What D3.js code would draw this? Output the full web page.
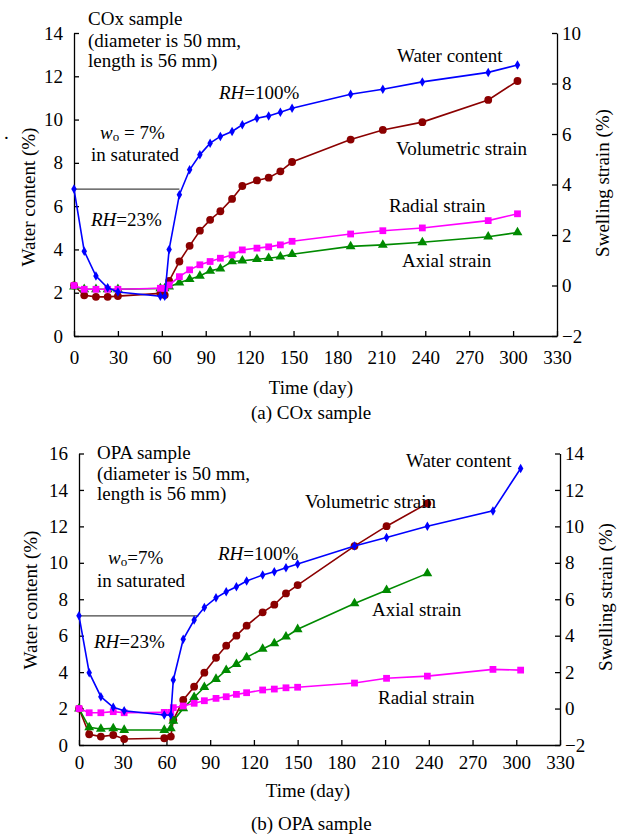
<!DOCTYPE html>
<html>
<head>
  <meta charset="utf-8">
  <script src="https://d3js.org/d3.v7.min.js"></script>
  <style>
    body { margin: 0; background: #fff; }
    .axis path, .axis line { stroke: #000; stroke-width: 1.3; }
  </style>
</head>
<body>
  <svg width="624" height="834"></svg>
  <script>
    // COx sample (a)
    var coxDays = [0, 7, 15, 23, 30, 59, 62, 65, 72, 79, 86, 93, 100, 108, 115, 125, 133, 141, 149, 189, 211, 238, 283, 303];
    var coxWater = [6.79, 3.92, 2.77, 2.23, 2.03, 1.84, 1.84, 4.0, 6.53, 7.68, 8.37, 8.91, 9.22, 9.45, 9.76, 10.06, 10.17, 10.34, 10.52, 11.17, 11.40, 11.74, 12.18, 12.52];
    var coxVol = [0.0, -0.39, -0.45, -0.45, -0.42, -0.31, -0.38, 0.18, 0.95, 1.57, 2.17, 2.60, 2.94, 3.43, 3.94, 4.16, 4.27, 4.52, 4.89, 5.78, 6.16, 6.47, 7.35, 8.10];
    var coxRadial = [0.0, -0.15, -0.15, -0.15, -0.15, -0.11, -0.11, 0.02, 0.35, 0.62, 0.82, 0.95, 1.08, 1.21, 1.41, 1.48, 1.53, 1.61, 1.75, 2.04, 2.17, 2.28, 2.57, 2.84];
    var coxAxial = [-0.05, -0.15, -0.15, -0.15, -0.15, -0.12, -0.12, -0.05, 0.11, 0.25, 0.38, 0.58, 0.67, 0.95, 0.98, 1.04, 1.08, 1.14, 1.24, 1.55, 1.61, 1.71, 1.93, 2.10];

    // OPA sample (b)
    var opaDays = [0, 7, 15, 23.5, 31, 58.5, 63, 64.7, 71.5, 79, 86, 94, 101, 108, 115, 126, 134, 142, 150, 189, 211, 239, 284, 303];
    var opaWater = [7.09, 3.97, 2.65, 2.07, 1.88, 1.65, 1.65, 3.57, 5.80, 6.86, 7.55, 8.08, 8.41, 8.69, 9.00, 9.33, 9.51, 9.73, 9.93, 10.92, 11.39, 12.01, 12.85, 15.18];
    var opaVol = [0.0, -1.41, -1.54, -1.45, -1.67, -1.63, -1.54, -0.63, 0.47, 1.20, 1.97, 2.79, 3.45, 4.00, 4.55, 5.28, 5.70, 6.32, 6.78, 8.92, 10.01, 11.26];
    var opaAxial = [0.0, -1.03, -1.12, -1.09, -1.18, -1.18, -1.09, -0.68, 0.01, 0.62, 1.17, 1.62, 2.11, 2.44, 2.81, 3.27, 3.58, 3.94, 4.35, 5.77, 6.50, 7.42];
    var opaRadial = [0.0, -0.23, -0.23, -0.17, -0.23, -0.21, -0.21, 0.05, 0.14, 0.29, 0.43, 0.56, 0.65, 0.78, 0.87, 1.02, 1.07, 1.14, 1.17, 1.40, 1.66, 1.78, 2.15, 2.11];

    var timeTicks = [0, 30, 60, 90, 120, 150, 180, 210, 240, 270, 300, 330];
    var coxLeftTicks = [0, 2, 4, 6, 8, 10, 12, 14];
    var coxRightTicks = [-2, 0, 2, 4, 6, 8, 10];
    var opaLeftTicks = [0, 2, 4, 6, 8, 10, 12, 14, 16];
    var opaRightTicks = [-2, 0, 2, 4, 6, 8, 10, 12, 14];

    var FONT = "'Liberation Serif'";
    var svg = d3.select("svg").style("font-family", FONT).style("font-size", "19px");

    function txt(x, y, s, anchor) {
      return svg.append("text").attr("x", x).attr("y", y).attr("dy", "0.35em")
        .style("font-family", FONT).style("font-size", "19px")
        .attr("text-anchor", anchor || "start").text(s);
    }
    function rh(x, y, rest) {
      var t = txt(x, y, "");
      t.append("tspan").style("font-style", "italic").text("RH");
      t.append("tspan").text(rest);
    }
    function wo(x, y, rest) {
      var t = txt(x, y, "");
      t.append("tspan").style("font-style", "italic").text("w");
      t.append("tspan").style("font-size", "13px").attr("dy", "2").text("o");
      t.append("tspan").attr("dy", "-2").text(rest);
    }

    function styleAxis(g) {
      g.attr("font-family", null).attr("font-size", null);
      g.selectAll("text").style("font-family", FONT).style("font-size", "19px").attr("fill", "#000");
    }

    function panel(p) {
      var x = d3.scaleLinear().domain([0, 330]).range([p.x0, p.x1]);
      var yl = d3.scaleLinear().domain(p.leftDom).range([p.y1, p.y0]);
      var yr = d3.scaleLinear().domain(p.rightDom).range([p.y1, p.y0]);

      svg.append("g").attr("class", "axis").attr("transform", "translate(0," + p.y1 + ")")
        .call(d3.axisBottom(x).tickValues(timeTicks).tickSize(-5).tickSizeOuter(0).tickPadding(p.xPad))
        .call(styleAxis);
      svg.append("g").attr("class", "axis").attr("transform", "translate(" + p.x0 + ",0)")
        .call(d3.axisLeft(yl).tickValues(p.leftTicks).tickSize(-5).tickSizeOuter(0).tickPadding(11))
        .call(styleAxis);
      svg.append("g").attr("class", "axis").attr("transform", "translate(" + p.x1 + ",0)")
        .call(d3.axisRight(yr).tickValues(p.rightTicks).tickSize(-5).tickSizeOuter(0).tickPadding(5))
        .call(styleAxis);

      // w0 reference line
      svg.append("line")
        .attr("x1", x(0)).attr("x2", x(p.refEnd))
        .attr("y1", yl(p.water[0])).attr("y2", yl(p.water[0]))
        .attr("stroke", "#444").attr("stroke-width", 1.2);

      var series = [
        { vals: p.vol, scale: yr, color: "#8b0000", sym: d3.symbolCircle, size: 48 },
        { vals: p.axial, scale: yr, color: "#008a00", sym: d3.symbolTriangle, size: 42 },
        { vals: p.radial, scale: yr, color: "#ff00ff", sym: d3.symbolSquare, size: 46 },
        { vals: p.water, scale: yl, color: "#0000ff", sym: d3.symbolDiamond, size: 26 }
      ];
      series.forEach(function(s) {
        var pts = s.vals.map(function(v, i) { return [p.days[i], v]; });
        var line = d3.line()
          .x(function(d) { return x(d[0]); })
          .y(function(d) { return s.scale(d[1]); });
        svg.append("path").datum(pts).attr("d", line)
          .attr("fill", "none").attr("stroke", s.color).attr("stroke-width", 1.6);
        svg.append("g").selectAll("path").data(pts).enter().append("path")
          .attr("d", d3.symbol().type(s.sym).size(s.size))
          .attr("transform", function(d) { return "translate(" + x(d[0]) + "," + s.scale(d[1]) + ")"; })
          .attr("fill", s.color);
      });

      txt(0, 0, "Water content (%)", "middle")
        .attr("transform", "translate(" + p.lLab[0] + "," + p.lLab[1] + ") rotate(-90)");
      txt(0, 0, "Swelling strain (%)", "middle")
        .attr("transform", "translate(" + p.rLab[0] + "," + p.rLab[1] + ") rotate(-90)");
    }

    panel({
      x0: 74, x1: 557, y0: 33, y1: 336, xPad: 15,
      leftDom: [0, 14], rightDom: [-2, 10], leftTicks: coxLeftTicks, rightTicks: coxRightTicks,
      days: coxDays, water: coxWater, vol: coxVol, radial: coxRadial, axial: coxAxial,
      refEnd: 72, lLab: [28, 197], rLab: [602, 183]
    });
    panel({
      x0: 79, x1: 560, y0: 453.5, y1: 745, xPad: 11,
      leftDom: [0, 16], rightDom: [-2, 14], leftTicks: opaLeftTicks, rightTicks: opaRightTicks,
      days: opaDays, water: opaWater, vol: opaVol, radial: opaRadial, axial: opaAxial,
      refEnd: 82, lLab: [30, 600], rLab: [605, 597]
    });

    // annotations (a)
    txt(88, 18, "COx sample");
    txt(88, 40, "(diameter is 50 mm,");
    txt(88, 60, "length is 56 mm)");
    rh(219, 92, "=100%");
    wo(100, 132, " = 7%");
    txt(91, 154, "in saturated");
    rh(91, 219, "=23%");
    txt(397, 55, "Water content");
    txt(396, 148, "Volumetric strain");
    txt(389, 205, "Radial strain");
    txt(402, 260, "Axial strain");
    txt(311, 387, "Time (day)", "middle");
    txt(251, 412, "(a) COx sample");
    txt(4, 132, ".");

    // annotations (b)
    txt(97, 452, "OPA sample");
    txt(97, 473, "(diameter is 50 mm,");
    txt(97, 493, "length is 56 mm)");
    txt(406, 460, "Water content");
    txt(305, 501, "Volumetric strain");
    txt(372, 609, "Axial strain");
    txt(378, 697, "Radial strain");
    wo(108, 557, "=7%");
    txt(97, 580, "in saturated");
    rh(218, 553, "=100%");
    rh(94, 641, "=23%");
    txt(308, 790, "Time (day)", "middle");
    txt(251, 823, "(b) OPA sample");
  </script>
</body>
</html>
